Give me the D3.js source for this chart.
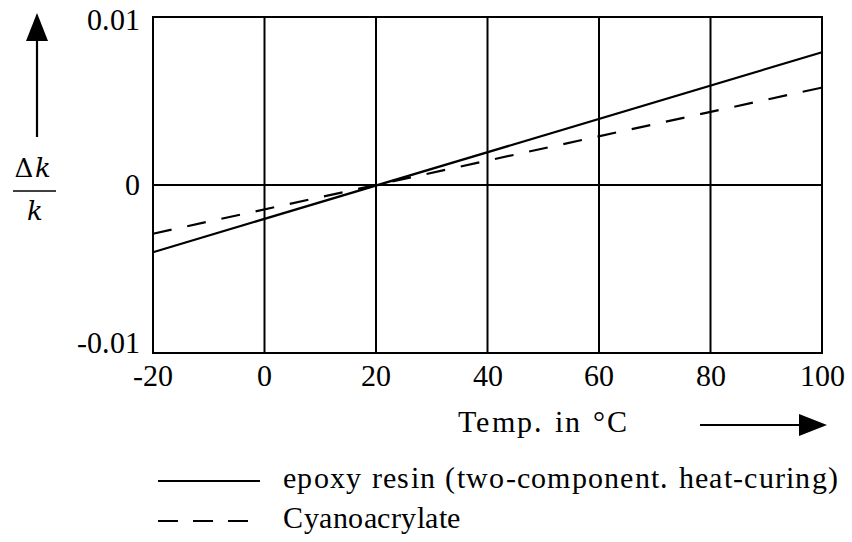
<!DOCTYPE html>
<html>
<head>
<meta charset="utf-8">
<script src="https://cdn.jsdelivr.net/npm/d3@7"></script>
<style>
  @font-face { font-family: "ChartSerif"; src: local("Liberation Serif"), local("LiberationSerif"), local("LiberationSerif-Regular"); font-style: normal; }
  html, body { margin: 0; padding: 0; background: #fff; }
</style>
</head>
<body>
<svg id="chart" width="852" height="542"></svg>
<script>
// Relative change of stiffness vs temperature for two adhesives
const temps = [-20, 100];
const epoxy = [-0.004, 0.0079];
const cyano = [-0.0029, 0.0058];
const xTicks = [-20, 0, 20, 40, 60, 80, 100];
const yTicks = [-0.01, 0, 0.01];
const yTickLabels = ["-0.01", "0", "0.01"];
const seriesNames = ["epoxy resin (two-component. heat-curing)", "Cyanoacrylate"];

const FONT = "ChartSerif, 'Liberation Serif', serif";
const MATH_FONT = "DejaVu Serif";
const FS = 30;

const svg = d3.select("#chart");
const margin = { left: 153, right: 30, top: 17, bottom: 189 };
const W = 852, H = 542;

const x = d3.scaleLinear().domain([-20, 100]).range([margin.left, W - margin.right]);
const y = d3.scaleLinear().domain([-0.01, 0.01]).range([H - margin.bottom, margin.top]);

function label(sel) {
  return sel.attr("font-family", FONT).attr("font-size", FS).attr("fill", "#000");
}

const tg = svg.append("g").attr("class", "texts");
const g = svg.append("g").attr("class", "plot");

// tick labels
tg.selectAll("text.xt").data(xTicks).join("text")
  .attr("class", "xt").call(label)
  .attr("x", d => x(d)).attr("y", y(-0.01) + 33)
  .attr("text-anchor", "middle")
  .text(d => d);

tg.selectAll("text.yt").data(yTicks).join("text")
  .attr("class", "yt").call(label)
  .attr("x", x(-20) - 13)
  .attr("y", (d, i) => y(d) + [0, 10, 13][i])
  .attr("text-anchor", "end")
  .text((d, i) => yTickLabels[i]);

// x axis title
tg.append("text").call(label).attr("x", 458).attr("y", 432)
  .attr("textLength", 169).attr("lengthAdjust", "spacing")
  .text("Temp. in °C");

// legend texts
const legendRows = [
  { name: seriesNames[0], dash: null, ly: 481, ty: 488, len: 555 },
  { name: seriesNames[1], dash: "20,15", ly: 521, ty: 528, len: 177 }
];
legendRows.forEach(r => {
  tg.append("text").call(label).attr("x", 283).attr("y", r.ty)
    .attr("textLength", r.len).attr("lengthAdjust", "spacing")
    .text(r.name);
});

// y axis title: fraction Δk / k
tg.append("text").attr("font-family", MATH_FONT).attr("font-size", 26).attr("fill", "#000")
  .attr("x", 24).attr("y", 177).attr("text-anchor", "middle").text("Δ");
tg.append("text").attr("font-family", MATH_FONT).attr("font-size", 26).attr("fill", "#000")
  .attr("font-style", "italic").attr("x", 43).attr("y", 177).attr("text-anchor", "middle").text("k");
tg.append("text").attr("font-family", MATH_FONT).attr("font-size", 26).attr("fill", "#000")
  .attr("font-style", "italic").attr("x", 35).attr("y", 220).attr("text-anchor", "middle").text("k");

// vertical grid lines
g.selectAll("line.vgrid").data(xTicks).join("line")
  .attr("class", "vgrid")
  .attr("x1", d => x(d)).attr("x2", d => x(d))
  .attr("y1", y(0.01)).attr("y2", y(-0.01))
  .attr("stroke", "#000").attr("stroke-width", 2);

// zero line
g.append("line")
  .attr("x1", x(-20)).attr("x2", x(100))
  .attr("y1", y(0)).attr("y2", y(0))
  .attr("stroke", "#000").attr("stroke-width", 2);

// frame
g.append("rect")
  .attr("x", x(-20)).attr("y", y(0.01))
  .attr("width", x(100) - x(-20)).attr("height", y(-0.01) - y(0.01))
  .attr("fill", "none").attr("stroke", "#000").attr("stroke-width", 2);

// data lines
const line = d3.line().x(d => x(d[0])).y(d => y(d[1]));
g.append("path").datum(temps.map((t, i) => [t, epoxy[i]]))
  .attr("d", line).attr("fill", "none").attr("stroke", "#000").attr("stroke-width", 2.2);
g.append("path").datum(temps.map((t, i) => [t, cyano[i]]))
  .attr("d", line).attr("fill", "none").attr("stroke", "#000").attr("stroke-width", 2.2)
  .attr("stroke-dasharray", "19,16");

// fraction bar and vertical arrow
g.append("line").attr("x1", 13).attr("x2", 56).attr("y1", 191).attr("y2", 191)
  .attr("stroke", "#000").attr("stroke-width", 1.6);
g.append("line").attr("x1", 37).attr("x2", 37).attr("y1", 137).attr("y2", 38)
  .attr("stroke", "#000").attr("stroke-width", 2.2);
g.append("path").attr("d", "M37,13 L26,41 L48,41 Z").attr("fill", "#000");

// horizontal arrow
g.append("line").attr("x1", 700).attr("x2", 805).attr("y1", 425).attr("y2", 425)
  .attr("stroke", "#000").attr("stroke-width", 2.2);
g.append("path").attr("d", "M827,425 L799,414 L799,436 Z").attr("fill", "#000");

// legend samples
legendRows.forEach(r => {
  g.append("line").attr("x1", 158).attr("x2", 260).attr("y1", r.ly).attr("y2", r.ly)
    .attr("stroke", "#000").attr("stroke-width", 2.2)
    .attr("stroke-dasharray", r.dash);
});
</script>
</body>
</html>
